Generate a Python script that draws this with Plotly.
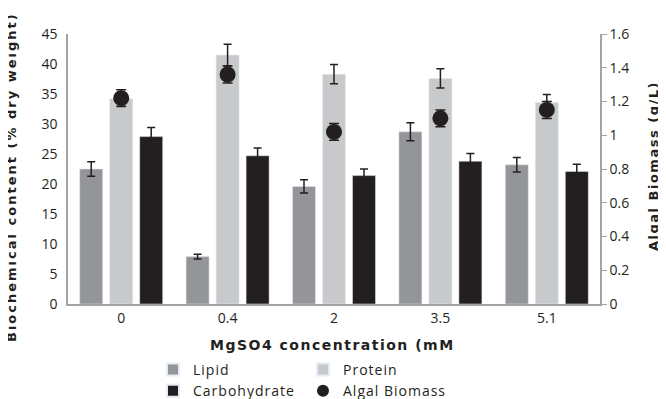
import plotly.graph_objects as go

categories = ["0", "0.4", "2", "3.5", "5.1"]
lipid = [22.5, 7.9, 19.6, 28.7, 23.2]
lipid_err = [1.2, 0.4, 1.1, 1.5, 1.2]
protein = [34.2, 41.5, 38.3, 37.6, 33.6]
protein_err = [1.0, 1.8, 1.6, 1.6, 1.3]
carbohydrate = [27.9, 24.7, 21.4, 23.8, 22.1]
carbohydrate_err = [1.5, 1.3, 1.1, 1.3, 1.2]
biomass = [1.22, 1.36, 1.02, 1.10, 1.15]
biomass_err = [0.05, 0.05, 0.05, 0.05, 0.05]

left_ticks = list(range(0, 46, 5))
right_ticks = [0, 0.2, 0.4, 0.6, 0.8, 1, 1.2, 1.4, 1.6]

txt = "#231f20"
axis_col = "#a3a3a3"
font_family = "Open Sans"

L, R, T, B = 60, 74, 26, 103
W, H = 666, 399
PW, PH = W - L - R, H - T - B


def px_x(px):
    return (px - L) / PW


def px_y(py):
    return (H - B - py) / PH


def spaced(s, sp):
    return f"<span style='letter-spacing:{sp}px'>{s}</span>"


def err(arr):
    return dict(type="data", array=arr, visible=True, color=txt, thickness=1.5, width=4)


fig = go.Figure()
fig.add_trace(go.Bar(x=categories, y=lipid, name=spaced("Lipid", 1), marker_color="#939598",
                     error_y=err(lipid_err), legend="legend"))
fig.add_trace(go.Bar(x=categories, y=protein, name=spaced("Protein", 1), marker_color="#c8c9cb",
                     error_y=err(protein_err), legend="legend2"))
fig.add_trace(go.Bar(x=categories, y=carbohydrate, name=spaced("Carbohydrate", 1),
                     marker_color="#231f20", error_y=err(carbohydrate_err), legend="legend"))
fig.add_trace(go.Scatter(x=categories, y=biomass, name=spaced("Algal Biomass", 1), mode="markers",
                         marker=dict(color=txt, size=16, symbol="circle"),
                         error_y=dict(type="data", array=biomass_err, visible=True, color=txt,
                                      thickness=1.5, width=5),
                         yaxis="y2", legend="legend2"))

legend_common = dict(orientation="v", font=dict(family=font_family, size=14, color=txt),
                     bgcolor="rgba(0,0,0,0)", xref="paper", yref="paper",
                     xanchor="left", yanchor="top", itemsizing="constant")

fig.update_layout(
    width=W, height=H,
    margin=dict(l=L, r=R, t=T, b=B, autoexpand=False),
    paper_bgcolor="white", plot_bgcolor="white",
    barmode="group", bargap=0.154, bargroupgap=0.233,
    font=dict(family=font_family, size=14, color=txt),
    xaxis=dict(type="category", showline=True, linecolor=axis_col, linewidth=1.5,
               ticks="", showgrid=False, tickfont=dict(size=14, color=txt)),
    yaxis=dict(range=[0, 45], tickvals=left_ticks, showline=True, linecolor=axis_col,
               linewidth=1.5, ticks="", showgrid=False, zeroline=False,
               ticklabelstandoff=6, tickfont=dict(size=14, color=txt)),
    yaxis2=dict(range=[0, 1.6], tickvals=right_ticks, overlaying="y", side="right",
                showline=True, linecolor=axis_col, linewidth=1.5, ticks="outside",
                ticklen=5, tickcolor=axis_col, showgrid=False, zeroline=False,
                tickfont=dict(size=14, color=txt)),
    legend=dict(legend_common, x=px_x(145), y=px_y(346)),
    legend2=dict(legend_common, x=px_x(295), y=px_y(346)),
    showlegend=True,
    annotations=[
        dict(text="<b>" + spaced("Biochemical content (% dry weight)", 2) + "</b>", textangle=-90,
             xref="paper", yref="paper", x=px_x(3), y=px_y(169), xanchor="center", yanchor="middle",
             showarrow=False, font=dict(family="DejaVu Sans", size=13, color=txt)),
        dict(text="<b>" + spaced("Algal Biomass (g/L)", 1.5) + "</b>", textangle=-90,
             xref="paper", yref="paper", x=px_x(645), y=px_y(158), xanchor="center", yanchor="middle",
             showarrow=False, font=dict(family="DejaVu Sans", size=13, color=txt)),
        dict(text="<b>" + spaced("MgSO4 concentration (mM", 1.5) + "</b>", xref="paper", yref="paper",
             x=px_x(324), y=px_y(337), xanchor="center", yanchor="middle",
             showarrow=False, font=dict(family="DejaVu Sans", size=14, color=txt)),
    ],
)

fig.write_html("out.html")
